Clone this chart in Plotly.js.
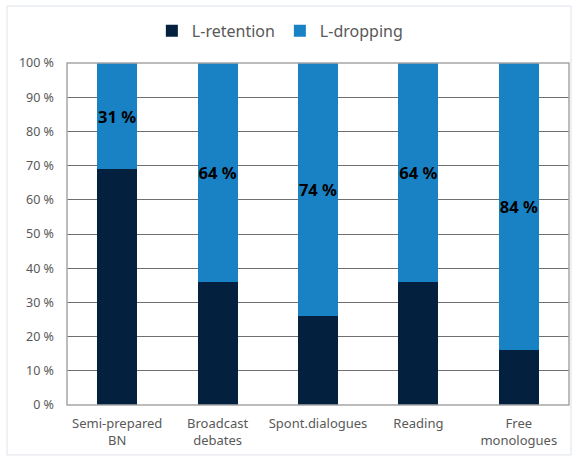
<!DOCTYPE html>
<html>
<head>
<meta charset="utf-8">
<script src="https://cdn.plot.ly/plotly-3.0.1.min.js"></script>
<style>html,body{margin:0;padding:0;background:#fff;}#chart{width:572px;height:456px;}</style>
</head>
<body>
<div id="chart"></div>
<script>
var categories = ["Semi-prepared<br>BN", "Broadcast<br>debates", "Spont.dialogues", "Reading", "Free<br>monologues"];
var retention = [69, 36, 26, 36, 16];
var dropping = [31, 64, 74, 64, 84];
var yTicks = [0, 10, 20, 30, 40, 50, 60, 70, 80, 90, 100];
var yTickLabels = ["0 %", "10 %", "20 %", "30 %", "40 %", "50 %", "60 %", "70 %", "80 %", "90 %", "100 %"];

var font = "Noto Sans, Open Sans, sans-serif";
var traces = [
  {type: "bar", name: "L-retention", x: categories, y: retention,
   marker: {color: "#03203f"}, hoverinfo: "skip"},
  {type: "bar", name: "L-dropping", x: categories, y: dropping,
   marker: {color: "#1982c4"},
   text: dropping.map(function(v){return "<b>" + v + " %</b>";}),
   textposition: "inside", insidetextanchor: "middle", constraintext: "none", textangle: 0,
   textfont: {family: font, size: 16.5, color: "#000"}, hoverinfo: "skip"}
];
var layout = {
  width: 572, height: 456,
  margin: {l: 67, r: 3, t: 63, b: 51},
  barmode: "stack", bargap: 0.6,
  uniformtext: {mode: "show", minsize: 16.5},
  paper_bgcolor: "#fff", plot_bgcolor: "#fff",
  font: {family: font, color: "#595959"},
  showlegend: true,
  legend: {orientation: "h", x: 0.424, xanchor: "center", y: 1.094, yanchor: "middle",
           font: {size: 16, color: "#595959"}, traceorder: "normal"},
  xaxis: {showgrid: false, tickfont: {size: 13, color: "#595959"}, showline: false, ticks: "",
          ticklabelstandoff: 9},
  yaxis: {range: [0, 100], tickmode: "array", tickvals: yTicks, ticktext: yTickLabels,
          gridcolor: "#6f6f6f", gridwidth: 1,
          tickfont: {size: 12.5, color: "#595959"}, showline: false, zeroline: false, ticklabelstandoff: 12},
  shapes: [
    {type: "rect", xref: "paper", yref: "paper", x0: 0, x1: 1, y0: 0, y1: 1,
     line: {color: "#a6a6a6", width: 1.5}, fillcolor: "rgba(0,0,0,0)", layer: "above"},
    {type: "rect", xref: "paper", yref: "paper", x0: -0.1195, x1: 1.004, y0: -0.146, y1: 1.1667,
     line: {color: "#dde3ea", width: 1}, fillcolor: "rgba(0,0,0,0)"}
  ]
};
Plotly.newPlot("chart", traces, layout, {displayModeBar: false, staticPlot: true});
</script>
</body>
</html>
